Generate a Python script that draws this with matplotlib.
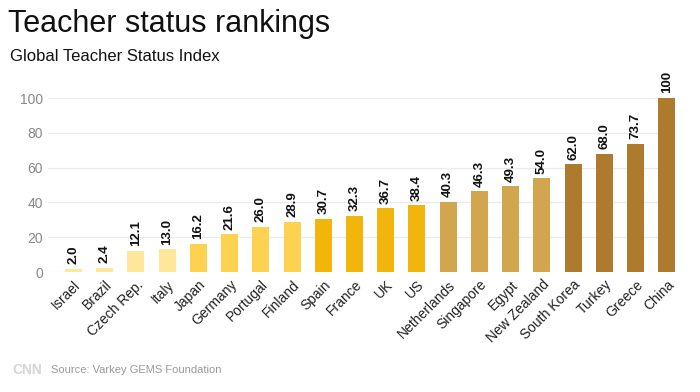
import matplotlib
matplotlib.use('Agg')
import matplotlib.pyplot as plt

countries = ['Israel', 'Brazil', 'Czech Rep.', 'Italy', 'Japan', 'Germany', 'Portugal',
             'Finland', 'Spain', 'France', 'UK', 'US', 'Netherlands', 'Singapore',
             'Egypt', 'New Zealand', 'South Korea', 'Turkey', 'Greece', 'China']
scores = [2.0, 2.4, 12.1, 13.0, 16.2, 21.6, 26.0, 28.9, 30.7, 32.3, 36.7, 38.4,
          40.3, 46.3, 49.3, 54.0, 62.0, 68.0, 73.7, 100]
score_labels = ['2.0', '2.4', '12.1', '13.0', '16.2', '21.6', '26.0', '28.9', '30.7', '32.3',
                '36.7', '38.4', '40.3', '46.3', '49.3', '54.0', '62.0', '68.0', '73.7', '100']
# colour group per country
groups = [0] * 4 + [1] * 4 + [2] * 4 + [3] * 4 + [4] * 4
palette = ['#fee79a', '#fdd250', '#f2b50c', '#d2a64e', '#ad7a2e']
yticks = [0, 20, 40, 60, 80, 100]

plt.rcParams['font.family'] = ['Liberation Sans', 'DejaVu Sans']

fig = plt.figure(figsize=(7, 3.92), dpi=100)
ax = fig.add_axes([0.0686, 0.306, 0.896, 0.444])

x = list(range(len(countries)))
ax.bar(x, scores, width=0.545, color=[palette[g] for g in groups], zorder=2)

for xi, v, lab in zip(x, scores, score_labels):
    ax.text(xi, v + 2.6, lab, rotation=90, ha='center', va='bottom',
            fontsize=9.5, fontweight='bold', color='#111111', clip_on=False)

ax.set_xlim(-0.816, 19.27)
ax.set_ylim(0, 100)
ax.set_yticks(yticks)
ax.set_yticklabels([str(t) for t in yticks], color='#888888', fontsize=10)
ax.tick_params(axis='y', length=0, pad=3.5)
ax.grid(axis='y', color='#ebebeb', linewidth=0.9, zorder=0)
ax.set_xticks(x)
ax.set_xticklabels(countries, rotation=45, ha='right', rotation_mode='anchor',
                   fontsize=10, color='#222222')
ax.tick_params(axis='x', length=0, pad=4)
for s in ax.spines.values():
    s.set_visible(False)

fig.text(0.011, 0.918, 'Teacher status rankings', fontsize=22, color='#111111')
fig.text(0.014, 0.845, 'Global Teacher Status Index', fontsize=12, color='#111111')
fig.text(0.018, 0.045, 'CNN', fontsize=10, fontweight='bold', color='#d5d5d5')
fig.text(0.073, 0.048, 'Source: Varkey GEMS Foundation', fontsize=8, color='#999999')

fig.savefig('out.png', dpi=100)
